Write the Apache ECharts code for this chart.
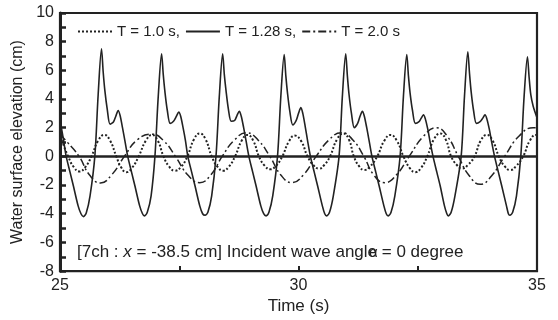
<!DOCTYPE html>
<html>
<head>
<meta charset="utf-8">
<script src="https://cdn.jsdelivr.net/npm/echarts@6/dist/echarts.min.js"></script>
<style>
  html, body { margin: 0; padding: 0; background: #fff; }
  #chart { width: 558px; height: 320px; }
</style>
</head>
<body>
<div id="chart"></div>
<script>
const FONT = "'Liberation Sans', Arial, sans-serif";
const INK = '#222';

// legend names
const names = ['T = 1.0 s,', 'T = 1.28 s,', 'T = 2.0 s'];

// axis ranges (s, cm); labels only on these steps
const xRange = [25, 35];
const yRange = [-8, 10];
const xLabelStep = 5;
const yLabelStep = 2;

// T = 1.0 s (dotted), [time, elevation]
const wave10 = [
  [25.00, 1.4], [25.05, 1.0], [25.17, 0], [25.29, -0.75], [25.41, -1.05], [25.53, -0.75], [25.66, 0],
  [25.80, 1.1], [25.93, 1.5], [26.05, 1.1], [26.18, 0], [26.28, -0.75], [26.39, -1.1], [26.51, -0.8],
  [26.65, 0], [26.80, 1.1], [26.93, 1.5], [27.05, 1.1], [27.17, 0], [27.29, -0.72], [27.41, -1.0],
  [27.54, -0.72], [27.67, 0], [27.81, 1.2], [27.93, 1.6], [28.05, 1.2], [28.18, 0], [28.30, -0.72],
  [28.42, -1.0], [28.54, -0.72], [28.67, 0], [28.81, 1.1], [28.93, 1.5], [29.05, 1.1], [29.17, 0],
  [29.29, -0.65], [29.41, -0.9], [29.53, -0.65], [29.66, 0], [29.80, 1.05], [29.92, 1.45], [30.05, 1.1],
  [30.19, 0], [30.31, -0.6], [30.43, -0.85], [30.54, -0.6], [30.66, 0], [30.81, 1.2], [30.94, 1.6],
  [31.06, 1.15], [31.16, 0], [31.27, -0.68], [31.38, -0.95], [31.50, -0.7], [31.65, 0], [31.80, 1.1],
  [31.93, 1.5], [32.06, 1.1], [32.20, 0], [32.33, -0.8], [32.45, -1.1], [32.57, -0.8], [32.70, 0],
  [32.84, 1.2], [32.97, 1.6], [33.09, 1.15], [33.20, 0], [33.32, -0.6], [33.43, -0.85], [33.55, -0.6],
  [33.69, 0], [33.82, 1.1], [33.95, 1.5], [34.07, 1.1], [34.20, 0], [34.32, -0.68], [34.44, -0.95],
  [34.56, -0.68], [34.71, 0], [34.85, 1.1], [34.98, 1.5], [35.00, 1.5]
];

// T = 1.28 s (solid)
const wave128 = [
  [25.00, 2.4], [25.04, 1.8], [25.08, 1.0], [25.13, 0], [25.21, -1.1], [25.28, -2.05], [25.38, -3.45],
  [25.44, -4.0], [25.49, -4.2], [25.55, -3.95], [25.63, -2.75], [25.73, 0], [25.80, 4.3], [25.87, 7.5],
  [25.905, 5.9], [25.94, 4.6], [25.99, 3.3], [26.05, 2.25], [26.12, 2.4], [26.17, 2.8], [26.22, 3.2],
  [26.26, 2.85], [26.31, 2.0], [26.36, 1.1], [26.42, 0], [26.50, -1.1], [26.57, -2.05], [26.67, -3.45],
  [26.73, -4.0], [26.77, -4.15], [26.83, -3.9], [26.91, -2.75], [26.99, 0], [27.06, 4.2], [27.13, 7.15],
  [27.165, 5.7], [27.20, 4.5], [27.25, 3.2], [27.31, 2.3], [27.38, 2.45], [27.44, 2.8], [27.49, 3.1],
  [27.53, 2.8], [27.58, 2.0], [27.63, 1.1], [27.68, 0], [27.76, -1.1], [27.83, -2.05], [27.93, -3.45],
  [27.99, -4.0], [28.04, -4.1], [28.10, -3.9], [28.18, -2.75], [28.27, 0], [28.34, 4.2], [28.41, 7.15],
  [28.445, 5.7], [28.48, 4.6], [28.53, 3.3], [28.59, 2.45], [28.66, 2.5], [28.71, 2.85], [28.76, 3.15],
  [28.80, 2.8], [28.85, 2.0], [28.90, 1.1], [28.96, 0], [29.04, -1.1], [29.11, -2.05], [29.21, -3.45],
  [29.27, -4.0], [29.32, -4.15], [29.38, -3.9], [29.46, -2.75], [29.56, 0], [29.63, 4.2], [29.70, 7.1],
  [29.735, 5.6], [29.77, 4.4], [29.82, 3.1], [29.88, 2.2], [29.95, 2.5], [30.00, 3.0], [30.05, 3.4],
  [30.09, 3.0], [30.14, 2.1], [30.19, 1.1], [30.25, 0], [30.33, -1.1], [30.40, -2.05], [30.50, -3.45],
  [30.55, -4.0], [30.59, -4.15], [30.65, -3.9], [30.73, -2.75], [30.85, 0], [30.92, 4.2], [30.99, 7.15],
  [31.025, 5.6], [31.06, 4.3], [31.11, 3.0], [31.17, 2.0], [31.24, 2.3], [31.29, 2.8], [31.34, 3.15],
  [31.38, 2.8], [31.43, 2.0], [31.48, 1.1], [31.54, 0], [31.62, -1.1], [31.69, -2.05], [31.79, -3.45],
  [31.84, -4.0], [31.88, -4.15], [31.94, -3.9], [32.02, -2.75], [32.13, 0], [32.20, 4.2], [32.27, 7.1],
  [32.305, 5.6], [32.34, 4.4], [32.39, 3.2], [32.45, 2.3], [32.52, 2.4], [32.57, 2.65], [32.62, 2.9],
  [32.66, 2.6], [32.71, 1.9], [32.76, 1.0], [32.82, 0], [32.90, -1.1], [32.97, -2.05], [33.06, -3.45],
  [33.11, -4.0], [33.14, -4.15], [33.20, -3.9], [33.28, -2.75], [33.41, 0], [33.48, 4.2], [33.55, 7.3],
  [33.585, 5.8], [33.62, 4.5], [33.67, 3.2], [33.73, 2.3], [33.80, 2.4], [33.86, 2.65], [33.91, 2.9],
  [33.95, 2.6], [34.00, 1.9], [34.05, 1.0], [34.11, 0], [34.19, -1.1], [34.26, -2.05], [34.36, -3.45],
  [34.40, -4.0], [34.43, -4.1], [34.49, -3.9], [34.57, -2.75], [34.66, 0], [34.73, 4.2], [34.80, 6.95],
  [34.835, 5.5], [34.87, 4.3], [34.92, 3.5], [35.00, 2.7]
];

// T = 2.0 s (dash-dot)
const wave20 = [
  [25.00, 1.55], [25.15, 1.0], [25.40, 0], [25.62, -1.3], [25.85, -1.85], [26.08, -1.3], [26.35, 0],
  [26.62, 1.15], [26.92, 1.55], [27.17, 1.1], [27.42, 0], [27.68, -1.3], [27.93, -1.83], [28.16, -1.3],
  [28.40, 0], [28.66, 1.15], [28.91, 1.65], [29.15, 1.15], [29.40, 0], [29.63, -1.3], [29.86, -1.83],
  [30.10, -1.3], [30.37, 0], [30.64, 1.15], [30.90, 1.65], [31.14, 1.15], [31.37, 0], [31.58, -1.3],
  [31.81, -1.83], [32.05, -1.3], [32.32, 0], [32.62, 1.4], [32.89, 2.0], [33.12, 1.4], [33.35, 0],
  [33.58, -1.35], [33.81, -1.95], [34.05, -1.35], [34.32, 0], [34.62, 1.4], [34.92, 2.0], [35.00, 2.0]
];

const chart = echarts.init(document.getElementById('chart'));

const hidden = 'rgba(0,0,0,0)';

const option = {
  animation: false,
  textStyle: { fontFamily: FONT, color: INK },
  color: [INK, INK, INK],
  grid: {
    left: 60, right: 21, top: 13, bottom: 48,
    show: true, borderColor: INK, borderWidth: 2.2, backgroundColor: 'transparent'
  },
  title: [
    {
      text: '[7ch : {i|x} = -38.5 cm] Incident wave angle = 0 degree',
      left: 72, top: 239,
      textStyle: {
        fontFamily: FONT, fontSize: 17, fontWeight: 'normal', color: INK,
        rich: { i: { fontFamily: FONT, fontSize: 17, fontStyle: 'italic', color: INK } }
      }
    },
    {
      text: 'α',
      left: 364, top: 240,
      textStyle: { fontFamily: FONT, fontSize: 15, fontWeight: 'normal', color: INK }
    }
  ],
  legend: {
    left: 72, top: 19,
    itemWidth: 34, itemHeight: 14, itemGap: 5,
    itemStyle: { color: hidden, borderColor: hidden, borderWidth: 0 },
    textStyle: { fontFamily: FONT, fontSize: 15, color: INK },
    data: names
  },
  xAxis: {
    type: 'value',
    min: xRange[0], max: xRange[1], interval: 2.5,
    name: 'Time (s)', nameLocation: 'middle', nameGap: 18,
    nameTextStyle: { fontFamily: FONT, fontSize: 17, color: INK },
    axisLine: { onZero: false, lineStyle: { color: INK, width: 2.2 } },
    axisTick: { inside: true, length: 5, lineStyle: { color: INK, width: 2 } },
    axisLabel: {
      fontFamily: FONT, fontSize: 16, color: INK, margin: 6,
      formatter: v => (v % xLabelStep === 0 ? String(v) : '')
    },
    splitLine: { show: false }
  },
  yAxis: {
    type: 'value',
    min: yRange[0], max: yRange[1], interval: 1,
    name: 'Water surface elevation (cm)', nameLocation: 'middle', nameGap: 34,
    nameTextStyle: { fontFamily: FONT, fontSize: 16, color: INK },
    axisLine: { onZero: false, lineStyle: { color: INK, width: 3 } },
    axisTick: { inside: true, length: 6, lineStyle: { color: INK, width: 2.5 } },
    axisLabel: {
      fontFamily: FONT, fontSize: 16, color: INK, margin: 6,
      formatter: v => (v % yLabelStep === 0 ? String(v) : '')
    },
    splitLine: { show: false }
  },
  series: [
    {
      name: names[0], type: 'line', data: wave10,
      smooth: 0.5, symbol: 'none',
      itemStyle: { color: INK },
      lineStyle: { color: INK, width: 2, type: [2, 2] }
    },
    {
      name: names[1], type: 'line', data: wave128,
      smooth: 0.3, symbol: 'none',
      itemStyle: { color: INK },
      lineStyle: { color: INK, width: 1.6, type: 'solid' },
      markLine: {
        silent: true, symbol: 'none', label: { show: false },
        lineStyle: { color: INK, width: 2.5, type: 'solid' },
        data: [{ yAxis: 0 }]
      }
    },
    {
      name: names[2], type: 'line', data: wave20,
      smooth: 0.5, symbol: 'none',
      itemStyle: { color: INK },
      lineStyle: { color: INK, width: 1.5, type: [8, 3, 2, 3] }
    }
  ]
};

chart.setOption(option);
</script>
</body>
</html>
